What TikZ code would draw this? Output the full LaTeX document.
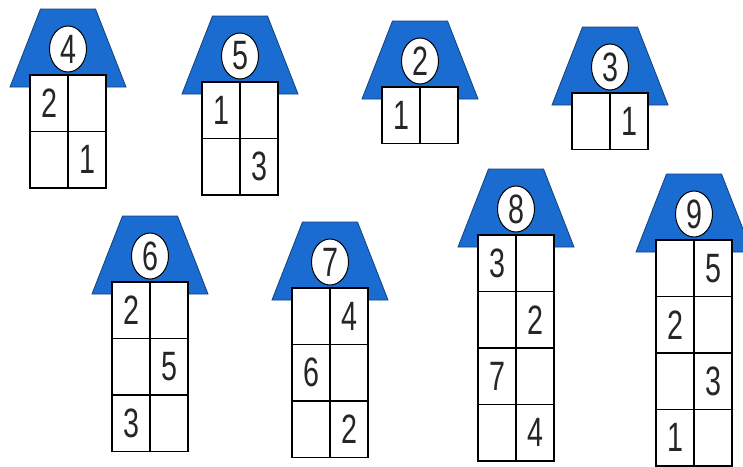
\documentclass[tikz,border=0pt]{standalone}
\usepackage{fontspec}
\setmainfont{Liberation Sans}
\newfontfamily\digitfont[FakeStretch=0.7]{Liberation Sans}
\usetikzlibrary{shapes.geometric}
\definecolor{roofblue}{RGB}{26,108,208}

\begin{document}
\begin{tikzpicture}[
  x=1pt, y=-1pt,
  roof/.style={fill=roofblue, draw=roofblue!60!black, line width=0.8pt},
  cellbox/.style={draw, fill=white, line width=1.4pt},
  cellline/.style={line width=1.4pt},
  badge/.style={ellipse, draw, fill=white, line width=1pt, minimum width=37pt, minimum height=46pt, inner sep=0pt},
  digit/.style={font=\digitfont\fontsize{41}{42}\selectfont, text=black!85, inner sep=0pt},
]
  \useasboundingbox (0,0) rectangle (743,466);
  \clip (0,0) rectangle (743,466);

  % Houses: name / centre x / top of the box / rows / number in the roof
  \foreach \name/\cx/\top/\rows/\n in {four/68/75/2/4, five/240/82/2/5, two/420/87/1/2, three/610/93/1/3,
      six/150/282/3/6, seven/330/288/3/7, eight/516/235/4/8, nine/694/240/4/9} {
    \coordinate (\name) at (\cx,\top);
    % roof
    \draw[roof] (\cx-27.5,\top-66) -- (\cx+27.5,\top-66) -- (\cx+58,\top+12) -- (\cx-58,\top+12) -- cycle;
    % cells
    \draw[cellbox] (\cx-38,\top) rectangle (\cx+38,\top+\rows*56.5);
    \draw[cellline] (\cx,\top) -- (\cx,\top+\rows*56.5);
    \foreach \r in {1,...,\rows} {
      \draw[cellline] (\cx-38,\top+\r*56.5) -- (\cx+38,\top+\r*56.5);
    }
    % number in the roof
    \node[badge] (\name-badge) at (\cx,\top-26) {};
    \node[digit] (\name-top) at (\name-badge) {\n};
  }

  % Numbers in the cells: house / row / column (-1 left, 1 right) / value
  \foreach \h/\r/\c/\v in {four/1/-1/2, four/2/1/1,
      five/1/-1/1, five/2/1/3,
      two/1/-1/1,
      three/1/1/1,
      six/1/-1/2, six/2/1/5, six/3/-1/3,
      seven/1/1/4, seven/2/-1/6, seven/3/1/2,
      eight/1/-1/3, eight/2/1/2, eight/3/-1/7, eight/4/1/4,
      nine/1/1/5, nine/2/-1/2, nine/3/1/3, nine/4/-1/1} {
    \node[digit] (\h-\r-\c) at ([shift={(\c*19,\r*56.5-28.25)}]\h) {\v};
  }

\end{tikzpicture}
\end{document}
